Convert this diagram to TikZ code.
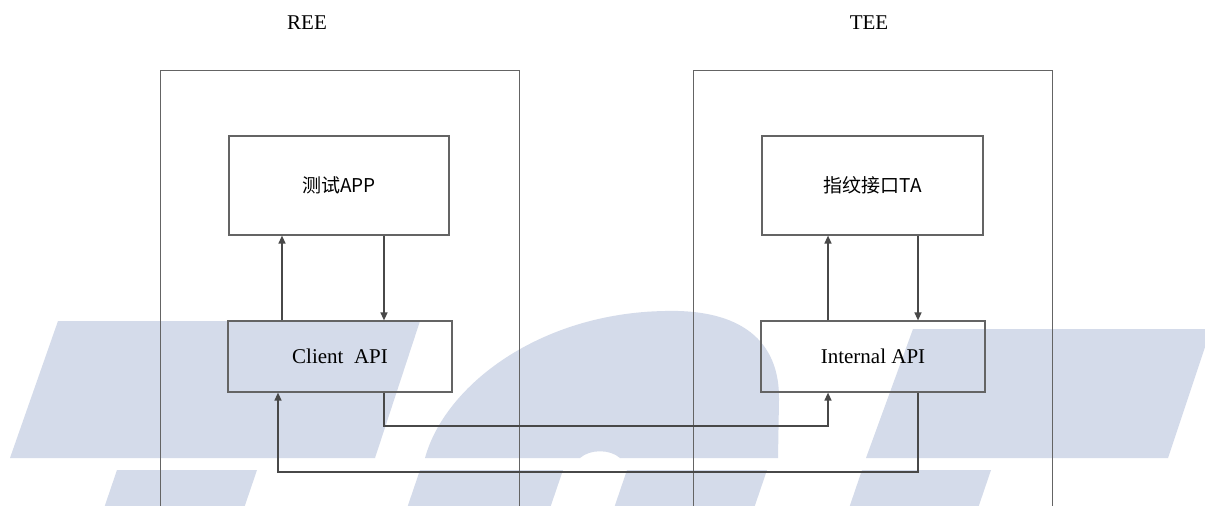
\documentclass[tikz,border=0pt]{standalone}
\usepackage{fontspec}
\setmainfont{Liberation Serif}
\newfontfamily\cjk{Noto Sans CJK SC}
\usetikzlibrary{arrows.meta}
\definecolor{wm}{RGB}{212,219,234}
\definecolor{ln}{RGB}{72,72,72}
\definecolor{bx}{RGB}{100,100,100}
\begin{document}
\begin{tikzpicture}[x=1pt,y=-1pt,
  outerbox/.style={draw=bx, line width=1pt, minimum width=359pt, minimum height=500pt, inner sep=0pt},
  compbox/.style={draw=bx, line width=1.2pt, inner sep=0pt},
  serif/.style={font=\fontsize{21}{25}\selectfont},
  cjktext/.style={font=\fontsize{19}{23}\selectfont\cjk},
  arr/.style={draw=ln, line width=1.4pt, -{Triangle[length=8pt,width=7pt]}}]
\clip (0,0) rectangle (1205,506);
\fill[white] (0,0) rectangle (1205,506);
% watermark
\fill[wm] (58,321) -- (420,321) -- (375,458) -- (10,458) -- cycle;
\fill[wm] (117,470) -- (257,470) -- (240,520) -- (100,520) -- cycle;
\fill[wm] (913,329) -- (1211,329) -- (1168,458) -- (866,458) -- cycle;
\fill[wm] (862,470) -- (991,470) -- (974,520) -- (845,520) -- cycle;
\fill[wm] (420,470) -- (563,470) -- (546,520) -- (403,520) -- cycle;
\fill[wm] (627,470) -- (767,470) -- (750,520) -- (610,520) -- cycle;
\fill[wm] (425,458) .. controls (445,385) and (540,313) .. (665,311)
  .. controls (740,309) and (780,340) .. (779,400) -- (778,458) -- (620,458)
  .. controls (610,449) and (590,449) .. (580,458) -- cycle;
% containers
\node[outerbox] (ree) at (339.5,320) {};
\node[outerbox] (tee) at (873,320) {};
\node[serif] (reelabel) at (307,23) {REE};
\node[serif] (teelabel) at (869,23) {TEE};
% components
\node[compbox, cjktext, minimum width=220pt, minimum height=99pt] (app) at (339,185.5) {测试APP};
\node[compbox, cjktext, minimum width=221pt, minimum height=99pt] (ta) at (872.5,185.5) {指纹接口TA};
\node[compbox, serif, minimum width=224pt, minimum height=71pt] (client) at (340,356.5) {Client\ \ API};
\node[compbox, serif, minimum width=224pt, minimum height=71pt] (internal) at (873,356.5) {Internal API};
% connectors
\draw[arr] (282,0 |- client.north) -- (282,0 |- app.south);
\draw[arr] (384,0 |- app.south) -- (384,0 |- client.north);
\draw[arr] (828,0 |- internal.north) -- (828,0 |- ta.south);
\draw[arr] (918,0 |- ta.south) -- (918,0 |- internal.north);
\draw[arr] (384,0 |- client.south) |- (828,426) -- (828,0 |- internal.south);
\draw[arr] (918,0 |- internal.south) |- (278,472) -- (278,0 |- client.south);
\end{tikzpicture}
\end{document}
